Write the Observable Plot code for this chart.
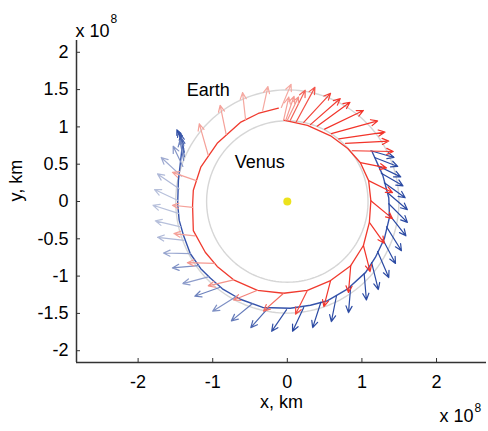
<!DOCTYPE html>
<html><head><meta charset="utf-8">
<script src="https://cdn.jsdelivr.net/npm/d3@7"></script>
<script src="https://cdn.jsdelivr.net/npm/@observablehq/plot@0.6"></script>
<style>body{margin:0;background:#fff;}</style>
</head><body><div id="chart"></div>
<script>
// Tick labels (units of 10^8 km)
const xTicks = [-2, -1, 0, 1, 2];
const yTicks = [-2, -1.5, -1, -0.5, 0, 0.5, 1, 1.5, 2];

// Planet orbits
const orbitNames = ["Earth", "Venus"];
const orbitRadii = [1.496, 1.082];

// Sun position
const sunX = [0];
const sunY = [0];

// Blue trajectory (first phase)
const blueX = [-1.40,-1.43,-1.46,-1.47,-1.45,-1.39,-1.30,-1.16,-1.03,-0.87,-0.63,-0.33,0.04,0.31,0.54,0.81,1.05,1.18,1.30,1.37,1.36,1.28,1.14];
const blueY = [0.82,0.55,0.28,-0.03,-0.25,-0.46,-0.70,-0.90,-1.03,-1.17,-1.31,-1.42,-1.43,-1.39,-1.33,-1.17,-0.95,-0.75,-0.50,-0.21,0.05,0.35,0.66];

// Red trajectory (second phase)
const redX = [-0.12,-0.39,-0.63,-0.94,-1.16,-1.26,-1.27,-1.26,-1.10,-0.94,-0.72,-0.40,-0.05,0.27,0.58,0.85,1.02,1.10,1.12,1.09,0.98,0.81,0.58,0.27,-0.05];
const redY = [1.25,1.18,1.06,0.78,0.46,0.15,-0.05,-0.39,-0.68,-0.87,-1.05,-1.19,-1.23,-1.19,-1.06,-0.86,-0.59,-0.28,0.01,0.28,0.52,0.71,0.88,1.02,1.09];

// Blue arrows: base, components, shade
const blueArrowX = [-1.39,-1.39,-1.38,-1.38,-1.39,-1.40,-1.42,-1.45,-1.46,-1.46,-1.43,-1.38,-1.30,-1.19,-1.06,-0.90,-0.68,-0.47,-0.25,-0.01,0.22,0.45,0.66,0.85,1.03,1.13,1.21,1.28,1.33,1.36,1.36,1.34,1.30,1.26,1.21,1.17,1.12];
const blueArrowY = [0.76,0.71,0.66,0.60,0.55,0.47,0.34,0.17,0.01,-0.16,-0.34,-0.52,-0.70,-0.86,-1.01,-1.15,-1.27,-1.37,-1.42,-1.45,-1.42,-1.35,-1.26,-1.14,-0.97,-0.82,-0.67,-0.51,-0.34,-0.17,-0.03,0.12,0.25,0.38,0.48,0.59,0.68];
const blueArrowU = [-0.09,-0.07,-0.05,-0.04,-0.05,-0.13,-0.27,-0.29,-0.32,-0.34,-0.34,-0.36,-0.36,-0.35,-0.34,-0.34,-0.32,-0.28,-0.24,-0.20,-0.15,-0.11,-0.07,-0.03,0.03,0.09,0.15,0.17,0.20,0.23,0.25,0.27,0.28,0.29,0.31,0.31,0.31];
const blueArrowV = [0.20,0.23,0.24,0.25,0.27,0.27,0.25,0.20,0.15,0.11,0.08,0.04,0.01,-0.03,-0.09,-0.12,-0.20,-0.23,-0.27,-0.29,-0.32,-0.34,-0.35,-0.35,-0.35,-0.36,-0.35,-0.32,-0.32,-0.29,-0.25,-0.23,-0.20,-0.17,-0.15,-0.12,-0.09];
const blueShade = [1,0.95,0.9,0.8,0.6,0.45,0.3,0.2,0.15,0.15,0.15,0.2,0.35,0.5,0.4,0.6,0.5,0.65,0.8,0.95,1,1,1,1,1,1,1,1,1,1,1,1,1,1,1,1,1];

// Red arrows: base, components, shade
const redArrowX = [-0.08,-0.33,-0.56,-0.82,-1.06,-1.22,-1.27,-1.24,-0.98,-0.72,-0.40,-0.05,0.27,0.58,0.85,1.02,1.10,1.12,1.09,0.98,0.87,0.78,0.69,0.59,0.50,0.40,0.31,0.22,0.12,0.04,0.00,-0.02,-0.05];
const redArrowY = [1.26,1.22,1.10,0.90,0.62,0.28,-0.08,-0.46,-0.83,-1.05,-1.19,-1.23,-1.19,-1.06,-0.86,-0.59,-0.28,0.01,0.28,0.52,0.68,0.78,0.84,0.91,0.97,1.01,1.03,1.06,1.07,1.09,1.09,1.09,1.09];
const redArrowU = [0.13,0.07,-0.04,-0.08,-0.12,-0.32,-0.27,-0.28,-0.36,-0.34,-0.32,-0.27,-0.16,-0.09,-0.03,0.09,0.20,0.29,0.32,0.35,0.55,0.58,0.62,0.62,0.52,0.44,0.40,0.36,0.25,0.20,0.15,0.11,0.07];
const redArrowV = [0.31,0.32,0.36,0.39,0.42,0.11,0.03,0.03,0.01,-0.08,-0.13,-0.24,-0.32,-0.35,-0.36,-0.35,-0.28,-0.24,-0.16,-0.07,-0.01,0.03,0.09,0.17,0.25,0.32,0.35,0.39,0.46,0.40,0.31,0.32,0.31];
const redShade = [0.25,0.25,0.25,0.3,0.3,0.3,0.3,0.3,0.35,0.4,0.5,0.65,0.85,1,1,1,1,1,1,1,1,1,1,1,1,1,0.95,0.9,0.8,0.7,0.4,0.35,0.3];

// ---- build tables ----
const orbits = orbitRadii.flatMap((r, k) =>
  d3.range(0, 361, 2).map(a => ({name: orbitNames[k], x: r * Math.cos(a * Math.PI / 180), y: r * Math.sin(a * Math.PI / 180)})));
const bluePath = blueX.map((x, i) => ({x, y: blueY[i]}));
const redPath = redX.map((x, i) => ({x, y: redY[i]}));
const blueCol = d3.interpolateRgb("#d0d5e5", "#2b4aa3");
const redCol = d3.interpolateRgb("#f6d0c8", "#f2342a");
const blueArrows = blueArrowX.map((x, i) => ({x1: x, y1: blueArrowY[i], x2: x + blueArrowU[i], y2: blueArrowY[i] + blueArrowV[i], c: blueCol(blueShade[i])}));
const redArrows = redArrowX.map((x, i) => ({x1: x, y1: redArrowY[i], x2: x + redArrowU[i], y2: redArrowY[i] + redArrowV[i], c: redCol(redShade[i])}));
const sun = sunX.map((x, i) => ({x, y: sunY[i]}));

const xDomain = [-2.826, 2.670];
const yDomain = [-2.158, 2.158];
const font = "'Liberation Sans', Arial, Helvetica, sans-serif";

const chart = Plot.plot({
  width: 488, height: 431,
  marginLeft: 76, marginRight: 2, marginTop: 40, marginBottom: 69,
  x: {domain: xDomain},
  y: {domain: yDomain},
  style: {fontFamily: font, fontSize: "18px", color: "#000", background: "#fff"},
  marks: [
    Plot.line(orbits, {x: "x", y: "y", z: "name", stroke: "#d6d6d6", strokeWidth: 1.4}),
    Plot.line(bluePath, {x: "x", y: "y", stroke: "#3553ab", strokeWidth: 1.4}),
    Plot.line(redPath, {x: "x", y: "y", stroke: "#f03a2e", strokeWidth: 1.3}),
    Plot.arrow(blueArrows, {x1: "x1", y1: "y1", x2: "x2", y2: "y2", stroke: "c", strokeWidth: 1.2, headLength: 9, headAngle: 50}),
    Plot.arrow(redArrows, {x1: "x1", y1: "y1", x2: "x2", y2: "y2", stroke: "c", strokeWidth: 1.2, headLength: 9, headAngle: 50}),
    Plot.dot(sun, {x: "x", y: "y", r: 4, fill: "#ece21c", stroke: "none"}),
    Plot.text(["Earth"], {x: -1.06, y: 1.49, text: d => d, fontSize: 18, fill: "#000"}),
    Plot.text(["Venus"], {x: -0.37, y: 0.52, text: d => d, fontSize: 18, fill: "#000"}),
    // axes
    Plot.ruleY([yDomain[0]], {stroke: "#333", strokeWidth: 1.5}),
    Plot.ruleX([xDomain[0]], {stroke: "#333", strokeWidth: 1.5}),
    Plot.axisX(xTicks, {tickSize: -4, fill: "none", stroke: "#333", label: null}),
    Plot.axisY(yTicks, {tickSize: -4, fill: "none", stroke: "#333", label: null}),
    Plot.axisX(xTicks, {tickSize: 0, tickPadding: 13, tickFormat: d => String(d), fontSize: 18, label: null}),
    Plot.axisY(yTicks, {tickSize: 0, tickPadding: 8, tickFormat: d => String(d), fontSize: 18, label: null}),
    Plot.text(["x, km"], {frameAnchor: "bottom", dy: 45, text: d => d, fontSize: 18, fill: "#000"}),
    Plot.text(["y, km"], {frameAnchor: "left", dx: -60, rotate: -90, text: d => d, fontSize: 18, fill: "#000"}),
    Plot.text(["x 10"], {frameAnchor: "top-left", dx: -1, dy: -16, textAnchor: "start", text: d => d, fontSize: 18, fill: "#000"}),
    Plot.text(["8"], {frameAnchor: "top-left", dx: 34, dy: -26, textAnchor: "start", text: d => d, fontSize: 12, fill: "#000"}),
    Plot.text(["x 10"], {frameAnchor: "bottom-right", dx: -13, dy: 59, textAnchor: "end", text: d => d, fontSize: 18, fill: "#000"}),
    Plot.text(["8"], {frameAnchor: "bottom-right", dx: -12, dy: 49, textAnchor: "start", text: d => d, fontSize: 12, fill: "#000"})
  ]
});
document.getElementById("chart").appendChild(chart);
</script>
</body></html>
